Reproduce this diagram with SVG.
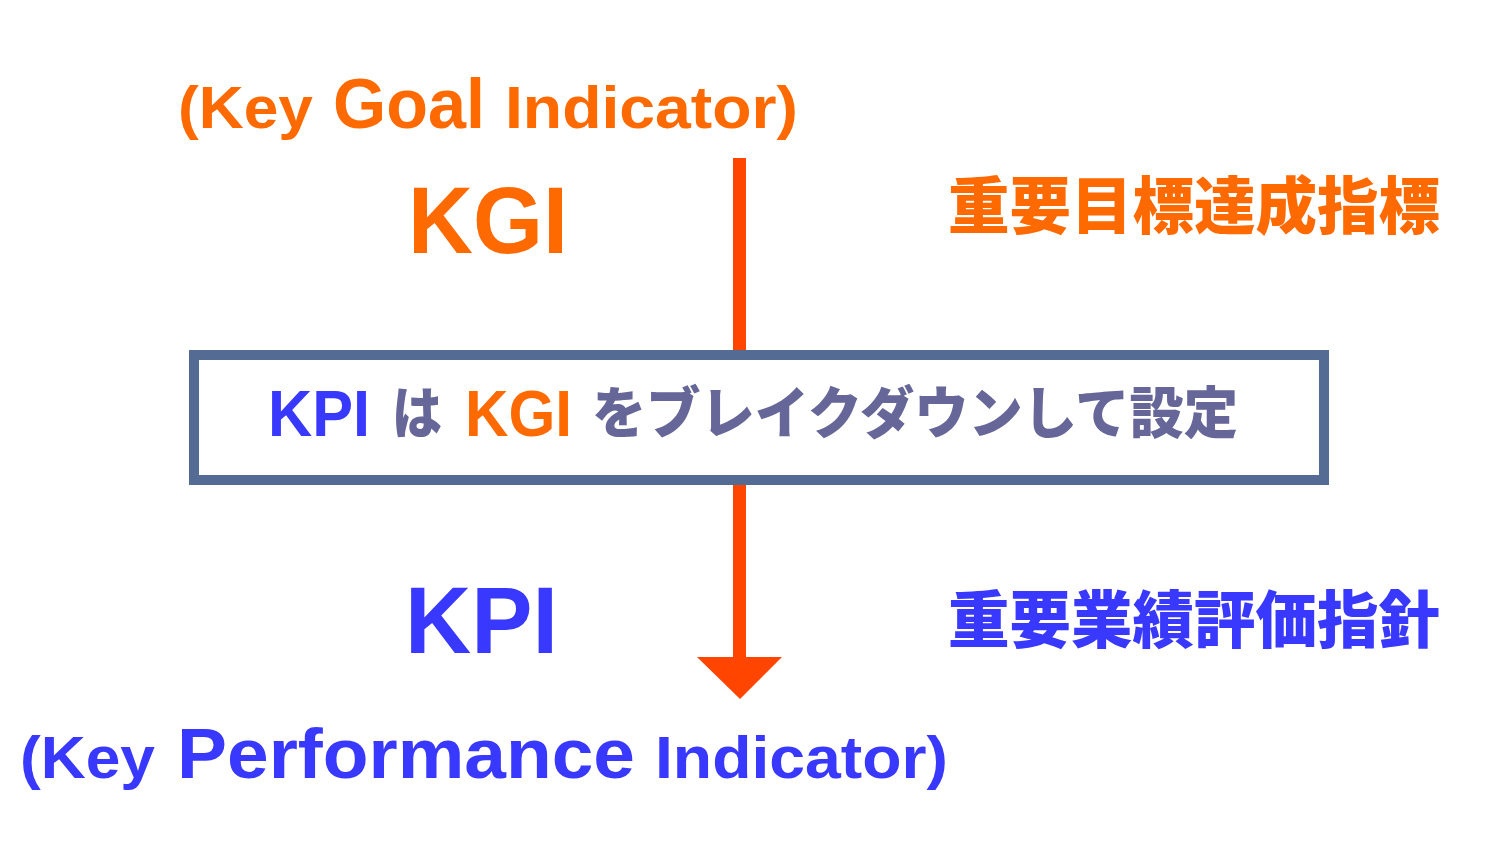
<svg xmlns="http://www.w3.org/2000/svg" width="1500" height="861" viewBox="0 0 1500 861">
<style>
.lat{font-family:"Liberation Sans",Arial,sans-serif;font-weight:bold}
.jp{font-family:"Noto Sans CJK JP","Noto Sans CJK SC",sans-serif;font-weight:900}
.or{fill:#FF6A00}
.bl{fill:#3838FF}
.gr{fill:#666699}
</style>
<rect width="1500" height="861" fill="#ffffff"/>
<g id="connectors">
<line x1="739.5" y1="158" x2="739.5" y2="356" stroke="#FF4500" stroke-width="13"/>
<line x1="739.5" y1="480" x2="739.5" y2="662" stroke="#FF4500" stroke-width="13"/>
<polygon points="697,657 782,657 740,699" fill="#FF4500"/>
</g>
<g id="kgi-full">
<text class="lat or" x="178" y="128" font-size="60" textLength="135" lengthAdjust="spacingAndGlyphs">(Key</text>
<text class="lat or" x="333" y="128" font-size="70" textLength="152" lengthAdjust="spacingAndGlyphs">Goal</text>
<text class="lat or" x="505" y="128" font-size="60" textLength="293" lengthAdjust="spacingAndGlyphs">Indicator)</text>
</g>
<g id="kgi">
<text class="lat or" x="408" y="253" font-size="95" textLength="160" lengthAdjust="spacingAndGlyphs">KGI</text>
</g>
<g id="kgi-jp">
<text class="jp or" x="948" y="229" font-size="62" textLength="492" lengthAdjust="spacingAndGlyphs">重要目標達成指標</text>
</g>
<g id="box">
<rect x="194" y="355" width="1130" height="125" fill="#ffffff" stroke="#546C94" stroke-width="10"/>
<text class="lat bl" x="268" y="436" font-size="64" textLength="102" lengthAdjust="spacingAndGlyphs">KPI</text>
<text class="jp gr" x="392" y="433" font-size="56" textLength="50" lengthAdjust="spacingAndGlyphs">は</text>
<text class="lat or" x="465" y="436" font-size="64" textLength="107" lengthAdjust="spacingAndGlyphs">KGI</text>
<text class="jp gr" x="592" y="433" font-size="56" textLength="646" lengthAdjust="spacingAndGlyphs">をブレイクダウンして設定</text>
</g>
<g id="kpi">
<text class="lat bl" x="405" y="653" font-size="95" textLength="153" lengthAdjust="spacingAndGlyphs">KPI</text>
</g>
<g id="kpi-jp">
<text class="jp bl" x="948" y="643" font-size="62" textLength="492" lengthAdjust="spacingAndGlyphs">重要業績評価指針</text>
</g>
<g id="kpi-full">
<text class="lat bl" x="20" y="778" font-size="60" textLength="135" lengthAdjust="spacingAndGlyphs">(Key</text>
<text class="lat bl" x="177" y="778" font-size="70" textLength="458" lengthAdjust="spacingAndGlyphs">Performance</text>
<text class="lat bl" x="655" y="778" font-size="60" textLength="293" lengthAdjust="spacingAndGlyphs">Indicator)</text>
</g>
</svg>
